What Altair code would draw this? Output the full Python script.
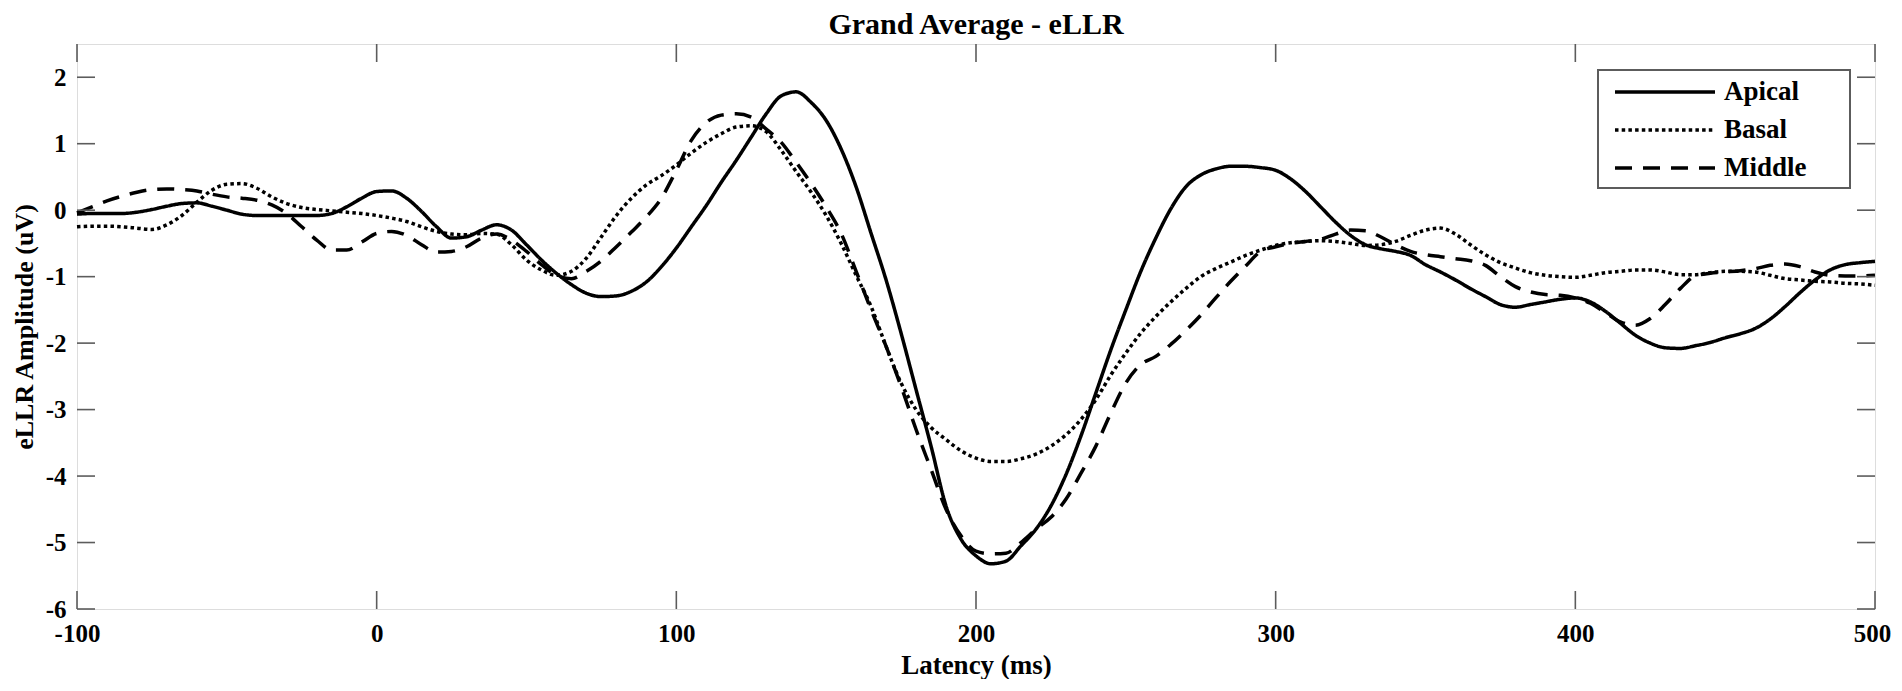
import altair as alt
import pandas as pd

# ---------------- data ----------------
times = list(range(-100, 505, 5))  # ms

apical = [
    -0.06, -0.05, -0.05, -0.05, -0.03, 0.01, 0.06, 0.10, 0.11, 0.06,      # -100..-55
    0.00, -0.06, -0.08, -0.08, -0.08, -0.08, -0.08, -0.05, 0.05, 0.18,    # -50..-5
    0.28, 0.29, 0.18, -0.02, -0.25, -0.42, -0.40, -0.30, -0.22, -0.30,    # 0..45
    -0.52, -0.75, -0.95, -1.12, -1.25, -1.30, -1.29, -1.22, -1.08, -0.85, # 50..95
    -0.57, -0.25, 0.07, 0.42, 0.75, 1.10, 1.45, 1.72, 1.78, 1.62,         # 100..145
    1.35, 0.92, 0.35, -0.35, -1.05, -1.85, -2.70, -3.55, -4.45, -4.95,    # 150..195
    -5.20, -5.32, -5.28, -5.05, -4.80, -4.45, -3.98, -3.40, -2.75, -2.10, # 200..245
    -1.50, -0.92, -0.42, 0.02, 0.35, 0.53, 0.62, 0.66, 0.66, 0.64,        # 250..295
    0.60, 0.47, 0.28, 0.05, -0.18, -0.38, -0.52, -0.58, -0.62, -0.68,     # 300..345
    -0.82, -0.93, -1.05, -1.18, -1.30, -1.42, -1.46, -1.42, -1.38, -1.34, # 350..395
    -1.32, -1.38, -1.52, -1.70, -1.88, -2.00, -2.07, -2.08, -2.04, -1.99, # 400..445
    -1.92, -1.86, -1.78, -1.64, -1.45, -1.24, -1.05, -0.90, -0.82, -0.79, # 450..495
    -0.77,                                                                # 500
]

basal = [
    -0.25, -0.24, -0.24, -0.25, -0.27, -0.29, -0.22, -0.08, 0.12, 0.30,
    0.39, 0.40, 0.33, 0.20, 0.10, 0.04, 0.01, -0.01, -0.03, -0.05,
    -0.08, -0.12, -0.17, -0.25, -0.32, -0.36, -0.37, -0.35, -0.36, -0.52,
    -0.75, -0.90, -0.98, -0.92, -0.72, -0.40, -0.08, 0.18, 0.38, 0.52,
    0.68, 0.86, 1.02, 1.15, 1.25, 1.27, 1.18, 0.90, 0.58, 0.27,
    -0.08, -0.50, -0.98, -1.45, -2.05, -2.60, -3.00, -3.27, -3.45, -3.62,
    -3.73, -3.78, -3.78, -3.74, -3.67, -3.55, -3.38, -3.15, -2.85, -2.48,
    -2.15, -1.85, -1.60, -1.38, -1.18, -1.00, -0.88, -0.78, -0.68, -0.60,
    -0.53, -0.49, -0.47, -0.46, -0.47, -0.50, -0.53, -0.52, -0.47, -0.38,
    -0.30, -0.27, -0.36, -0.52, -0.67, -0.79, -0.87, -0.94, -0.98, -1.00,
    -1.01, -0.98, -0.94, -0.92, -0.90, -0.90, -0.93, -0.97, -0.97, -0.94,
    -0.92, -0.92, -0.93, -0.98, -1.03, -1.05, -1.07, -1.08, -1.10, -1.11,
    -1.13,
]

middle = [
    -0.04, 0.05, 0.14, 0.21, 0.27, 0.31, 0.32, 0.31, 0.29, 0.24,
    0.20, 0.18, 0.15, 0.08, -0.05, -0.25, -0.45, -0.60, -0.60, -0.48,
    -0.35, -0.32, -0.38, -0.52, -0.63, -0.62, -0.55, -0.42, -0.36, -0.45,
    -0.62, -0.82, -0.98, -1.03, -0.92, -0.76, -0.55, -0.33, -0.10, 0.18,
    0.60, 1.05, 1.32, 1.43, 1.45, 1.40, 1.22, 1.02, 0.72, 0.40,
    0.05, -0.35, -0.92, -1.50, -2.05, -2.65, -3.30, -3.90, -4.50, -4.90,
    -5.13, -5.17, -5.16, -5.00, -4.80, -4.62, -4.35, -3.96, -3.55, -3.05,
    -2.60, -2.32, -2.20, -2.02, -1.81, -1.58, -1.32, -1.07, -0.84, -0.62,
    -0.55, -0.50, -0.47, -0.44, -0.36, -0.30, -0.31, -0.40, -0.52, -0.62,
    -0.67, -0.70, -0.73, -0.76, -0.83, -1.00, -1.15, -1.23, -1.27, -1.28,
    -1.32, -1.40, -1.54, -1.68, -1.73, -1.63, -1.42, -1.18, -0.99, -0.95,
    -0.93, -0.91, -0.88, -0.83, -0.81, -0.85, -0.93, -0.98, -0.99, -0.99,
    -0.98,
]

series_names = ["Apical", "Basal", "Middle"]
series_values = [apical, basal, middle]
series_dash = [[1, 0], [3.5, 3.2], [17, 11]]

x_ticks = [-100, 0, 100, 200, 300, 400, 500]
y_ticks = [-6, -5, -4, -3, -2, -1, 0, 1, 2]
x_domain = [-100, 500]
y_domain = [-6, 2.5]

# ---------------- build table ----------------
rows = []
for name, vals in zip(series_names, series_values):
    for t, v in zip(times, vals):
        rows.append({"Latency": t, "Amplitude": v, "Series": name})
df = pd.DataFrame(rows)

W, H = 1798, 565
FONT = "Liberation Serif"
FRAME = "#5c5c5c"
TICK_LEN = 18

xscale = alt.Scale(domain=x_domain, nice=False, zero=False)
yscale = alt.Scale(domain=y_domain, nice=False, zero=False)

x_axis = alt.Axis(
    orient="bottom",
    values=x_ticks, title="Latency (ms)", labelExpr="'' + datum.value",
    ticks=False, tickSize=0, domain=False, grid=False, labelFlush=False,
    labelOffset={"condition": {"test": "datum.value === 500", "value": -3}, "value": 0},
    labelFont=FONT, labelFontSize=25, labelFontWeight="bold", labelColor="black",
    labelPadding=12,
    titleFont=FONT, titleFontSize=27, titleFontWeight="bold", titleColor="black",
    titlePadding=6,
)
y_axis = alt.Axis(
    orient="left",
    values=y_ticks, title="eLLR Amplitude (uV)", labelExpr="'' + datum.value",
    ticks=False, tickSize=0, domain=False, grid=False, labelFlush=False,
    labelFont=FONT, labelFontSize=25, labelFontWeight="bold", labelColor="black",
    labelPadding=11,
    titleFont=FONT, titleFontSize=26, titleFontWeight="bold", titleColor="black",
    titlePadding=8,
)

legend = alt.Legend(
    orient="none", legendX=1538, legendY=33.5, title=None,
    symbolType="M-4,0L4,0", symbolSize=625, symbolStrokeWidth=3.5,
    symbolStrokeColor="black", symbolFillColor="transparent",
    symbolOffset=35.5, labelOffset=44.5, rowPadding=10, padding=0,
    labelFont=FONT, labelFontSize=27, labelFontWeight="bold", labelColor="black",
)

lines = alt.Chart(df).mark_line(
    color="black", strokeWidth=3.5, interpolate="monotone"
).encode(
    x=alt.X("Latency:Q", scale=xscale, axis=x_axis),
    y=alt.Y("Amplitude:Q", scale=yscale, axis=y_axis),
    strokeDash=alt.StrokeDash(
        "Series:N",
        scale=alt.Scale(domain=series_names, range=series_dash),
        legend=legend,
    ),
)

xt_df = pd.DataFrame({"Latency": x_ticks})
yt_df = pd.DataFrame({"Amplitude": y_ticks})

tick_style = dict(color=FRAME, strokeWidth=1.6)
x_ticks_bottom = alt.Chart(xt_df).mark_rule(**tick_style).encode(
    x=alt.X("Latency:Q", scale=xscale, axis=x_axis), y=alt.value(H), y2=alt.value(H - TICK_LEN)
)
x_ticks_top = alt.Chart(xt_df).mark_rule(**tick_style).encode(
    x=alt.X("Latency:Q", scale=xscale, axis=x_axis), y=alt.value(0), y2=alt.value(TICK_LEN)
)
y_ticks_left = alt.Chart(yt_df).mark_rule(**tick_style).encode(
    y=alt.Y("Amplitude:Q", scale=yscale, axis=y_axis), x=alt.value(0), x2=alt.value(TICK_LEN)
)
y_ticks_right = alt.Chart(yt_df).mark_rule(**tick_style).encode(
    y=alt.Y("Amplitude:Q", scale=yscale, axis=y_axis), x=alt.value(W), x2=alt.value(W - TICK_LEN)
)

legend_box = alt.Chart(pd.DataFrame({"a": [0]})).mark_rect(
    fill="white", stroke=FRAME, strokeWidth=2
).encode(
    x=alt.value(1521), x2=alt.value(1773), y=alt.value(26), y2=alt.value(144)
)

chart = alt.layer(
    lines, x_ticks_bottom, x_ticks_top, y_ticks_left, y_ticks_right, legend_box
).properties(
    width=W, height=H,
    autosize=alt.AutoSizeParams(type="none"),
    padding={"left": 69, "top": 36, "right": 19, "bottom": 70},
    title=alt.TitleParams(
        "Grand Average - eLLR", font=FONT, fontSize=30, fontWeight="bold",
        color="black", anchor="middle", offset=3,
    ),
).resolve_axis(x="shared", y="shared").configure_view(
    stroke=FRAME, strokeWidth=2
).configure(background="white")

chart.save("out.html", embed_options={"renderer": "svg", "actions": False})
